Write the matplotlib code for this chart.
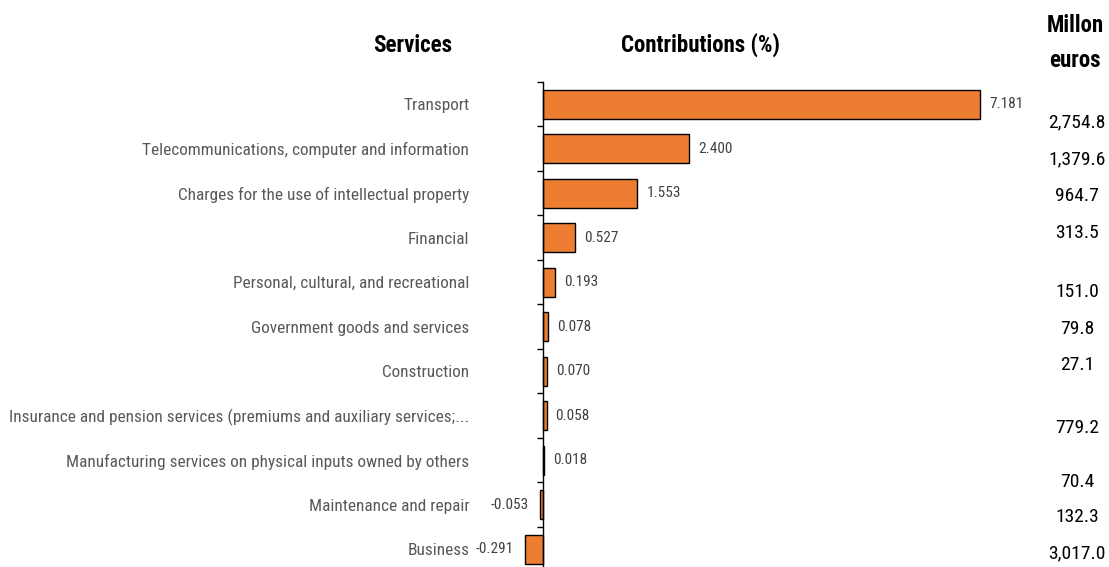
import numpy as np
import matplotlib.pyplot as plt
import matplotlib.transforms as mtransforms

plt.rcParams['font.family'] = ['Roboto Condensed', 'Archivo Narrow', 'DejaVu Sans']

# Dados
services = [
    "Transport",
    "Telecommunications, computer and information",
    "Charges for the use of intellectual property",
    "Financial",
    "Personal, cultural, and recreational",
    "Government goods and services",
    "Construction",
    "Insurance and pension services (premiums and auxiliary services;...",
    "Manufacturing services on physical inputs owned by others",
    "Maintenance and repair",
    "Business",
]
contributions = [7.181, 2.400, 1.553, 0.527, 0.193, 0.078, 0.070, 0.058, 0.018, -0.053, -0.291]
million_euros = ["2,754.8", "1,379.6", "964.7", "313.5", "151.0", "79.8", "27.1",
                 "779.2", "70.4", "132.3", "3,017.0"]

# deslocamento vertical (em linhas) da coluna da direita, como no original
euros_shift = [0.40, 0.23, 0.06, -0.11, 0.23, 0.04, -0.15, 0.27, 0.48, 0.28, 0.10]

orange = "#ED7D31"
grey_lab = "#595959"
grey_val = "#404040"

fig = plt.figure(figsize=(11.09, 5.67), dpi=100)
ax = fig.add_axes([0.4512, -0.0079, 0.4884, 0.8633])

y = np.arange(len(services))
ax.barh(y, contributions, height=0.66, color=orange, edgecolor="black", linewidth=1.0)

ax.set_xlim(-0.7, 8.2)
ax.set_ylim(len(services) - 0.5, -0.5)

for s in ["top", "right", "bottom"]:
    ax.spines[s].set_visible(False)
ax.spines["left"].set_position(("data", 0))
ax.spines["left"].set_linewidth(1.0)
ax.set_xticks([])

ax.set_yticks(y)
ax.set_yticklabels(services, fontsize=12.4, color=grey_lab)
ax.tick_params(axis="y", which="major", length=0, pad=53)
ax.set_yticks(np.arange(-0.5, len(services), 1.0), minor=True)
ax.tick_params(axis="y", which="minor", length=4, width=1.0, direction="out")

# Rótulos dos valores
for yi, v in zip(y, contributions):
    if v >= 0:
        ax.annotate(f"{v:.3f}", (v, yi), xytext=(6.5, 0), textcoords="offset points",
                    ha="left", va="center", fontsize=11, color=grey_val)
    else:
        ax.annotate(f"{v:.3f}", (v, yi), xytext=(-8, 0), textcoords="offset points",
                    ha="right", va="center", fontsize=11, color=grey_val)

# Coluna da direita
trans = mtransforms.blended_transform_factory(fig.transFigure, ax.transData)
for yi, txt, dy in zip(y, million_euros, euros_shift):
    ax.text(1077 / 1109, yi + dy, txt, transform=trans, ha="center", va="center",
            fontsize=14, color="black", clip_on=False)

# Títulos
fig.text(413 / 1109, 1 - 45 / 567, "Services", ha="center", va="center",
         fontsize=16.5, fontweight="bold")
fig.text(700 / 1109, 1 - 45 / 567, "Contributions (%)", ha="center", va="center",
         fontsize=16.5, fontweight="bold")
fig.text(1075 / 1109, 1 - 25 / 567, "Millon", ha="center", va="center",
         fontsize=16.5, fontweight="bold")
fig.text(1075 / 1109, 1 - 61 / 567, "euros", ha="center", va="center",
         fontsize=16.5, fontweight="bold")

plt.savefig("out.png", dpi=100)
